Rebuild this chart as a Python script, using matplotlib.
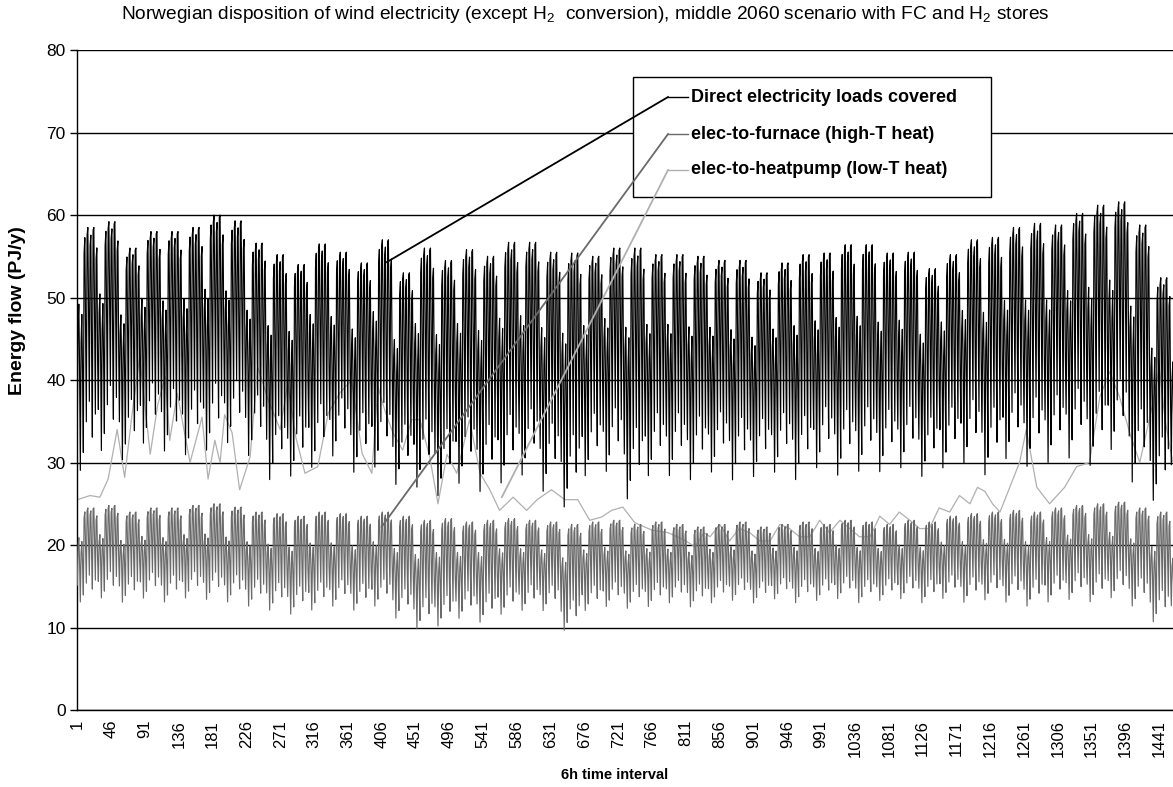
import matplotlib
matplotlib.use("Agg")
import matplotlib.pyplot as plt
from matplotlib.patches import Rectangle
import numpy as np

plt.rcParams['font.family'] = ['Liberation Sans', 'DejaVu Sans']
plt.rcParams['mathtext.fontset'] = 'custom'
plt.rcParams['mathtext.rm'] = 'Liberation Sans'
plt.rcParams['mathtext.bf'] = 'Liberation Sans:bold'

# 365 days x 4 six-hour intervals; day 0 is a Saturday
n_days = 365

# typical week shape (fraction between weekly trough and weekday peak), Sat..Fri, 4 values/day
week_shape = [0.22, 0.62, 0.70, 0.45,
              0.05, 0.55, 0.66, 0.42,
              0.12, 0.90, 0.96, 0.58,
              0.24, 0.97, 1.00, 0.66,
              0.32, 0.93, 0.97, 0.52,
              0.18, 0.99, 1.00, 0.63,
              0.27, 0.88, 0.92, 0.48]

# direct electricity loads covered: weekday peak and weekend trough per week
direct_peak = [58.5, 59.2, 56, 58, 58, 58.5, 60, 59.3, 56.6, 55.2, 54, 56.5, 55.5,
               54.2, 57, 53, 56, 54.5, 55.8, 55, 56.7, 56.7, 55.5, 55.4, 55, 56,
               56, 55.2, 55.2, 55, 54.5, 54.5, 53, 54.2, 55.2, 55.4, 56.4, 56.4,
               55.4, 55.5, 53.5, 55.2, 57, 57.3, 58.5, 59, 58.8, 60.2, 61.2, 61.6,
               58.8, 52.4, 50]
direct_trough = [27.5, 30, 29, 31, 30, 29.5, 30, 31, 29.5, 26.5, 27, 28, 29.5,
                 27.5, 28, 26, 25.5, 24.5, 26, 25, 26, 27, 25, 23, 27, 27.5,
                 24, 27, 27, 26.5, 27.5, 26.5, 27, 27.5, 26.5, 28, 27, 27.5,
                 27.5, 28, 27, 28, 28.5, 27, 29, 28, 28.5, 29, 28, 30,
                 26, 24, 24]

# elec-to-furnace: weekday peak and weekend trough per week
furnace_peak = [24.5, 24.8, 24, 24.5, 24.5, 24.8, 25, 24.6,
                24, 23.8, 23.5, 24, 23.8, 23.5, 24,
                23.5, 23, 23.2, 22.8, 23, 23.2, 23, 22.8,
                22.5, 22.8, 23, 22.5, 22.8, 22.5, 22.2, 22.5, 22.8, 22.2, 22.5,
                22.8, 22.5, 23, 22.8, 22.5, 23, 22.8,
                23.5, 23.8, 24, 24.2, 24, 24.5, 24.8, 25, 25.2, 24.5, 24, 22]
furnace_trough = [12.5, 13, 12.5, 13, 12.5, 13, 12.8, 12.5,
                  12, 11.5, 11, 11.5, 12, 11.5, 12,
                  10.5, 9.2, 9.5, 10.5, 10, 11, 11.5, 11.5,
                  9, 11.5, 12, 11.8, 12, 12.5, 12, 12.5, 12.8, 12.5, 13,
                  12.5, 12.8, 13, 12.5, 12.8, 13, 12.5,
                  13, 12.5, 12.8, 12.5, 12, 12.5, 12.8, 12.5, 13, 12, 10, 10]

# elec-to-heatpump: read points (interval, PJ/y)
heatpump_t = [1, 18, 31, 42, 54, 64, 74, 84, 98, 108, 118, 124, 134, 151, 167, 175,
              184, 191, 197, 207, 217, 231, 241, 255, 271, 281, 292, 304, 321, 335,
              350, 366, 380, 393, 401, 410, 421, 434, 446, 457, 470, 481, 493, 506,
              523, 537, 550, 563, 581, 599, 613, 632, 650, 667, 683, 699, 712, 727,
              743, 766, 787, 809, 823, 835, 843, 856, 869, 882, 896, 909, 923, 936,
              949, 962, 976, 989, 1002, 1016, 1029, 1042, 1056, 1069, 1082, 1095,
              1109, 1122, 1135, 1148, 1162, 1175, 1189, 1199, 1209, 1219, 1229,
              1242, 1255, 1264, 1278, 1295, 1315, 1331, 1348, 1362, 1375, 1388,
              1402, 1415, 1432, 1441, 1449, 1459]
heatpump_v = [25.5, 26, 25.8, 28, 34, 28.2, 36, 42.8, 31, 37, 40.4, 32.7, 38.4, 30,
              35.5, 28, 32.7, 30, 35.8, 33.6, 26.7, 30.7, 41.6, 37.6, 34, 39.6, 33,
              28.7, 29.5, 36, 38.4, 40, 31.1, 28.7, 39.2, 36.4, 33.6, 31.5, 35.2,
              35.2, 30.7, 25, 31, 28.7, 35.2, 28.7, 26.7, 24.2, 25.8, 24.2, 25.5,
              26.7, 25.5, 25.5, 23, 23.4, 24.2, 24.6, 22.7, 21.8, 21.5, 20.6, 19.8,
              21.5, 21, 22.5, 20.5, 22, 21.5, 20.5, 20.5, 22.5, 22, 21, 21, 23,
              21.5, 23, 22, 21, 21, 23.5, 22.5, 24, 23, 22, 22, 24.5, 24, 26, 25,
              27, 26.5, 25, 24, 27, 30, 34, 27, 25, 27, 29.5, 30, 38, 41, 38, 33.5,
              30, 37, 41.5, 35, 30]

xtick_vals = list(range(1, 1461, 45))

series_names = ['Direct electricity loads covered',
                'elec-to-furnace (high-T heat)',
                'elec-to-heatpump (low-T heat)']
series_colors = ['#000000', '#6a6a6a', '#b0b0b0']


def build(peak, trough):
    vals = []
    for d in range(n_days):
        k = d // 7
        for j in range(4):
            f = week_shape[(d % 7) * 4 + j]
            vals.append(trough[k] + f * (peak[k] - trough[k]))
    return np.array(vals)


t = np.arange(1, n_days * 4 + 1)
direct = build(direct_peak, direct_trough)
furnace = build(furnace_peak, furnace_trough)

fig = plt.figure(figsize=(11.73, 7.87), dpi=100)
ax = fig.add_axes([0.0656, 0.0978, 0.9352, 0.8386])

ax.plot(t, direct, color=series_colors[0], lw=0.85, zorder=4)
ax.plot(t, furnace, color=series_colors[1], lw=0.85, zorder=3)
ax.plot(heatpump_t, heatpump_v, color=series_colors[2], lw=0.9, zorder=2)

ax.set_xlim(0.5, 1460.5)
ax.set_ylim(0, 80)
ax.set_yticks(range(0, 81, 10))
ax.set_xticks(xtick_vals)
ax.set_xticklabels([str(v) for v in xtick_vals], rotation=90, fontsize=12)
ax.tick_params(axis='x', length=0, pad=7)
ax.tick_params(axis='y', labelsize=12.5, length=5, width=1, direction='out', pad=3)
ax.yaxis.grid(True, color='black', lw=1.0)
ax.set_axisbelow(True)
for s in ['top', 'right']:
    ax.spines[s].set_visible(False)
ax.spines['left'].set_linewidth(1.0)
ax.spines['bottom'].set_linewidth(1.0)

fig.text(0.4987, 0.981,
         r'Norwegian disposition of wind electricity (except H$_\mathregular{2}$  conversion), '
         r'middle 2060 scenario with FC and H$_\mathregular{2}$ stores',
         ha='center', va='center', fontsize=13.8)
fig.text(0.0153, 0.606, 'Energy flow (PJ/y)', rotation=90, ha='center', va='center',
         fontsize=14, fontweight='bold')
fig.text(0.524, 0.0152, '6h time interval', ha='center', va='center',
         fontsize=10.5, fontweight='bold')

# legend box with leader lines, all drawn at figure level above the axes
fig.patches.append(Rectangle((0.5396, 0.7497), 0.3052, 0.1525, transform=fig.transFigure,
                             facecolor='white', edgecolor='black', lw=1.0, zorder=5))
leg_y = [0.8767, 0.8297, 0.7840]
leader_pts = [(413, 54.3), (406, 22.2), (566, 25.8)]
to_fig = fig.transFigure.inverted()
for name, col, ly, pt in zip(series_names, series_colors, leg_y, leader_pts):
    px, py = to_fig.transform(ax.transData.transform(pt))
    fig.lines.append(plt.Line2D([0.5695, 0.5865], [ly, ly], transform=fig.transFigure,
                                color=col, lw=1.0, zorder=6))
    fig.lines.append(plt.Line2D([px, 0.5695], [py, ly], transform=fig.transFigure,
                                color=col, lw=1.3, zorder=7))
    fig.text(0.589, ly, name, ha='left', va='center', fontsize=13, fontweight='bold',
             zorder=6)

fig.savefig('out.png', dpi=100)
